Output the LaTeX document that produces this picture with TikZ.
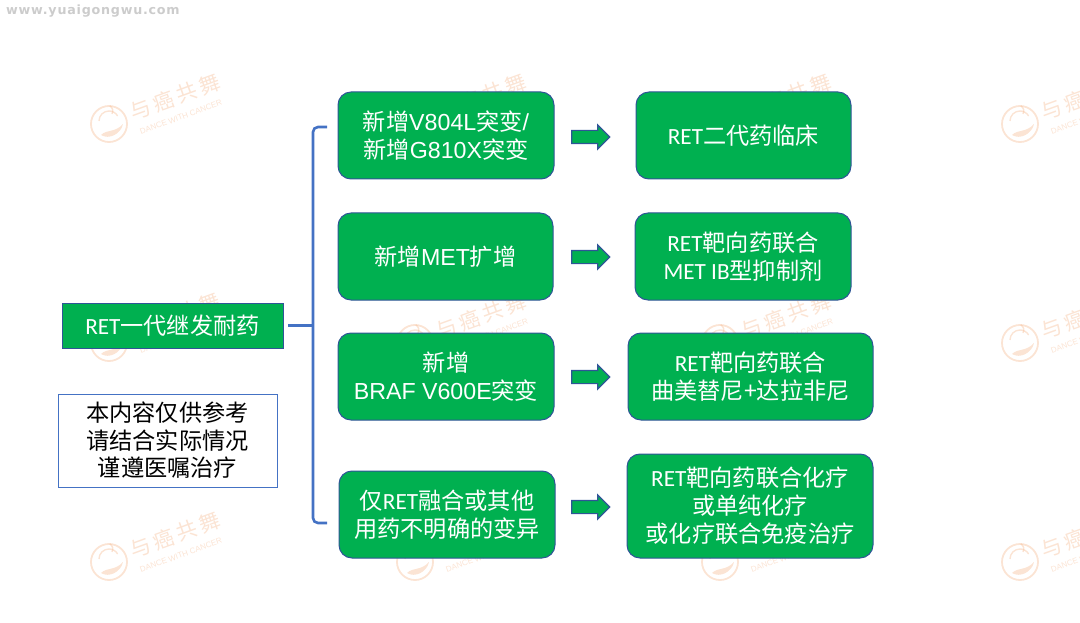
\documentclass[tikz,border=0pt]{standalone}
\usepackage{fontspec}
\usetikzlibrary{shapes.arrows}
\setmainfont{Noto Sans CJK SC}
\newfontfamily\calfont{Carlito}
\newfontfamily\arifont{Liberation Sans}
\newfontfamily\webfont[LetterSpace=6]{DejaVu Sans}
\definecolor{boxgreen}{HTML}{00B050}
\definecolor{boxline}{HTML}{2F5597}
\definecolor{bracecol}{HTML}{4472C4}
\definecolor{markcol}{HTML}{F4B183}
\begin{document}
\begin{tikzpicture}[x=1pt,y=-1pt]
	\tikzstyle{Item} = [rectangle, rounded corners=13pt, minimum height=87pt, inner sep=0pt, align=center, text=white, draw=boxline, line width=1pt, fill=boxgreen, font=\fontsize{23.2}{28}\selectfont]
	\tikzstyle{Root} = [rectangle, minimum width=221pt, minimum height=45pt, inner sep=0pt, text=white, draw=boxline, line width=0.8pt, fill=boxgreen, font=\fontsize{23.2}{28}\selectfont]
	\tikzstyle{Note} = [rectangle, minimum width=219pt, minimum height=93pt, inner sep=0pt, align=center, text=black, draw=bracecol, line width=0.8pt, fill=white, font=\fontsize{23.2}{27.5}\selectfont]
	\tikzstyle{Step} = [single arrow, minimum height=38pt, single arrow head extend=5.5pt, single arrow head indent=0pt, inner xsep=0pt, inner ysep=6pt, draw=boxline, line width=1.2pt, fill=boxgreen]
	\tikzstyle{brace} = [line width=2.6pt, bracecol, rounded corners=5pt]

	\useasboundingbox (0,0) rectangle (1080,623);
	\clip (0,0) rectangle (1080,623);

	% faint marks repeated over the page
	\foreach \col/\xpos in {a/109, b/415, c/720, d/1020} {
		\foreach \row/\ypos in {a/124, b/343, c/562} {
			\begin{scope}[shift={(\xpos,\ypos)}, opacity=0.35, markcol]
				\draw [line width=1.8pt] (0,0) circle (18);
				\draw [line width=1.4pt] (-10,-3) arc (180:330:10);
				\draw [line width=1.4pt] (3,-10) arc (30:-60:6);
				\fill (-8,11) .. controls (-2,5) and (6,9) .. (14,0) .. controls (12,10) and (0,16) .. (-8,11);
				\node (mark\col\row) [rotate=20, inner sep=0pt, font=\fontsize{21}{24}\selectfont] at (66,-27) {与\,癌\,共\,舞};
				\node (tag\col\row) [rotate=20, inner sep=0pt, font=\arifont\fontsize{8}{10}\selectfont] at (72,-7) {DANCE WITH CANCER};
			\end{scope}
		}
	}

	\node (site) [text=black!20, font=\webfont\bfseries\fontsize{12.7}{14}\selectfont, inner sep=0pt, anchor=west] at (6,11) {www.yuaigongwu.com};

	\node (root) [Root] at (172.5,325.5) {{\calfont RET}一代继发耐药};
	\node (note) [Note] at (167.5,440.5) {本内容仅供参考\\请结合实际情况\\谨遵医嘱治疗};

	% left column
	\node (newa) [Item, minimum width=216pt] at (446,135.5) {新增{\arifont V804L}突变{\arifont /}\\新增{\arifont G810X}突变};
	\node (newb) [Item, minimum width=215pt] at (445.5,256.5) {新增{\arifont MET}扩增};
	\node (newc) [Item, minimum width=216pt] at (446,376.5) {新增\\{\arifont BRAF V600E}突变};
	\node (newd) [Item, minimum width=216pt] at (447,514.5) {仅{\calfont RET}融合或其他\\用药不明确的变异};

	% right column
	\node (trta) [Item, minimum width=215pt] at (743.5,135.5) {{\calfont RET}二代药临床};
	\node (trtb) [Item, minimum width=216pt] at (743,256.5) {{\calfont RET}靶向药联合\\{\calfont MET IB}型抑制剂};
	\node (trtc) [Item, minimum width=245pt] at (750.5,376.5) {{\calfont RET}靶向药联合\\曲美替尼+达拉非尼};
	\node (trtd) [Item, minimum width=246pt, minimum height=104pt] at (750,506) {{\calfont RET}靶向药联合化疗\\或单纯化疗\\或化疗联合免疫治疗};

	\foreach \name/\ypos in {stepa/137, stepb/257, stepc/377, stepd/507}
		\node (\name) [Step] at (587.5,\ypos) {};

	% bracket from the root box to the four rows
	\coordinate (bracemid) at ([xshift=5pt]root.east);
	\coordinate (bracetop) at (327,127);
	\coordinate (bracebot) at (327,523);
	\draw [brace] (bracetop) -- (313,127) -- (313,523) -- (bracebot);
	\draw [brace, rounded corners=0pt] (bracemid) -- (313,325.5);
\end{tikzpicture}
\end{document}
